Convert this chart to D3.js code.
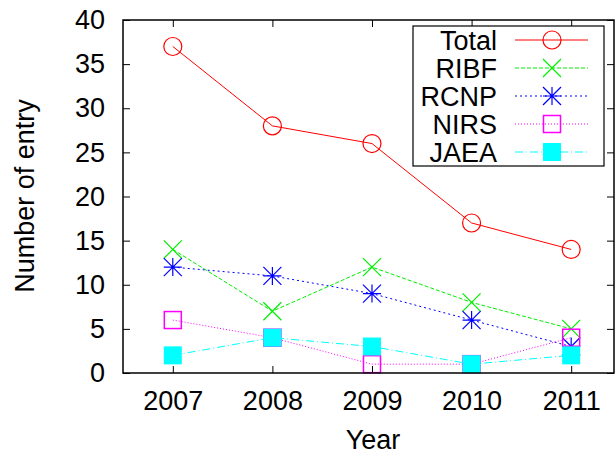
<!DOCTYPE html>
<html><head><meta charset="utf-8">
<script src="https://cdn.jsdelivr.net/npm/d3@7"></script>
<style>body{margin:0;background:#fff}svg{display:block}</style>
</head><body>
<svg id="c" width="615" height="454"></svg>
<script>
const years = [2007, 2008, 2009, 2010, 2011];
const total = [37, 28, 26, 17, 14];
const ribf  = [14, 7, 12, 8, 5];
const rcnp  = [12, 11, 9, 6, 3];
const nirs  = [6, 4, 1, 1, 4];
const jaea  = [2, 4, 3, 1, 2];
const seriesNames = ["Total", "RIBF", "RCNP", "NIRS", "JAEA"];
const yTicks = [0, 5, 10, 15, 20, 25, 30, 35, 40];
const xLabel = "Year", yLabel = "Number of entry";

const W = 615, H = 454;
const M = {left: 123, right: 1, top: 20, bottom: 81};
const FONT = "'Liberation Sans', Arial, Helvetica, sans-serif";
const FS = 27;

const svg = d3.select("#c");
const x = d3.scaleLinear().domain([2006.5, 2011.43]).range([M.left, W - M.right]);
const y = d3.scaleLinear().domain([0, 40]).range([H - M.bottom, M.top]);

const styles = [
  {color: "#ff0000", dash: null, sym: "circle"},
  {color: "#00ee00", dash: "4,2", sym: "cross"},
  {color: "#0000ff", dash: "2,3", sym: "star"},
  {color: "#ff00ff", dash: "1,2", sym: "square"},
  {color: "#00ffff", dash: "8,3,1,3", sym: "fsquare"}
];
const data = [total, ribf, rcnp, nirs, jaea];

function drawSym(g, sym, color) {
  const r = 9;
  if (sym === "circle") {
    g.append("circle").attr("r", r).attr("fill", "none").attr("stroke", color).attr("stroke-width", 1.2);
  } else if (sym === "cross") {
    g.append("path").attr("d", `M${-r},${-r}L${r},${r}M${-r},${r}L${r},${-r}`).attr("stroke", color).attr("stroke-width", 1.2).attr("fill", "none");
  } else if (sym === "star") {
    g.append("path").attr("d", `M${-r},${-r}L${r},${r}M${-r},${r}L${r},${-r}M0,${-r}L0,${r}M${-r},0L${r},0`).attr("stroke", color).attr("stroke-width", 1.2).attr("fill", "none");
  } else if (sym === "square") {
    g.append("rect").attr("x", -8.5).attr("y", -8.5).attr("width", 17).attr("height", 17).attr("fill", "none").attr("stroke", color).attr("stroke-width", 1.5);
  } else if (sym === "fsquare") {
    g.append("rect").attr("x", -9).attr("y", -9).attr("width", 18).attr("height", 18).attr("fill", color);
  }
}

// axes (inward ticks)
const gy = svg.append("g").attr("transform", `translate(${M.left},0)`)
  .call(d3.axisLeft(y).tickValues(yTicks).tickSize(-7).tickPadding(18).tickFormat(d3.format("d")));
gy.select(".domain").remove();
gy.selectAll("text").attr("font-family", FONT).attr("font-size", FS).attr("fill", "#000");
gy.selectAll("line").attr("stroke", "#000");

const gyr = svg.append("g").attr("transform", `translate(${W - M.right},0)`)
  .call(d3.axisRight(y).tickValues(yTicks).tickSize(-7).tickFormat(""));
gyr.select(".domain").remove();

const gx = svg.append("g").attr("transform", `translate(0,${H - M.bottom})`)
  .call(d3.axisBottom(x).tickValues(years).tickSize(-7).tickPadding(18).tickFormat(d3.format("d")));
gx.select(".domain").remove();
gx.selectAll("text").attr("font-family", FONT).attr("font-size", FS).attr("fill", "#000");

const gxt = svg.append("g").attr("transform", `translate(0,${M.top})`)
  .call(d3.axisTop(x).tickValues(years).tickSize(-7).tickFormat(""));
gxt.select(".domain").remove();

// series
const line = d3.line().x((d, i) => x(years[i])).y(d => y(d));
data.forEach((vals, si) => {
  const st = styles[si];
  svg.append("path").datum(vals).attr("d", line).attr("fill", "none")
    .attr("stroke", st.color).attr("stroke-width", 1).attr("stroke-dasharray", st.dash);
  vals.forEach((v, i) => {
    const g = svg.append("g").attr("transform", `translate(${x(years[i])},${y(v)})`);
    drawSym(g, st.sym, st.color);
  });
});

// frame
svg.append("rect").attr("x", M.left).attr("y", M.top)
  .attr("width", W - M.right - M.left).attr("height", H - M.bottom - M.top)
  .attr("fill", "none").attr("stroke", "#000").attr("stroke-width", 1.5);

// legend
const L = {x: 413, y: 26, w: 191, h: 140, row: 28, first: 14};
const lg = svg.append("g");
lg.append("rect").attr("x", L.x).attr("y", L.y).attr("width", L.w).attr("height", L.h)
  .attr("fill", "#fff").attr("stroke", "#000").attr("stroke-width", 1.2);
seriesNames.forEach((name, i) => {
  const cy = L.y + L.first + i * L.row;
  const st = styles[i];
  lg.append("text").attr("x", L.x + 84).attr("y", cy).attr("dy", "0.36em")
    .attr("text-anchor", "end").attr("font-family", FONT).attr("font-size", FS).text(name);
  lg.append("line").attr("x1", L.x + 102).attr("x2", L.x + 175).attr("y1", cy).attr("y2", cy)
    .attr("stroke", st.color).attr("stroke-width", 1).attr("stroke-dasharray", st.dash);
  drawSym(lg.append("g").attr("transform", `translate(${L.x + 139},${cy})`), st.sym, st.color);
});

// axis labels
svg.append("text").attr("x", 373).attr("y", 449).attr("text-anchor", "middle")
  .attr("font-family", FONT).attr("font-size", FS).text(xLabel);
svg.append("text").attr("transform", `translate(34,196) rotate(-90)`).attr("text-anchor", "middle")
  .attr("font-family", FONT).attr("font-size", FS).text(yLabel);
</script>
</body></html>
